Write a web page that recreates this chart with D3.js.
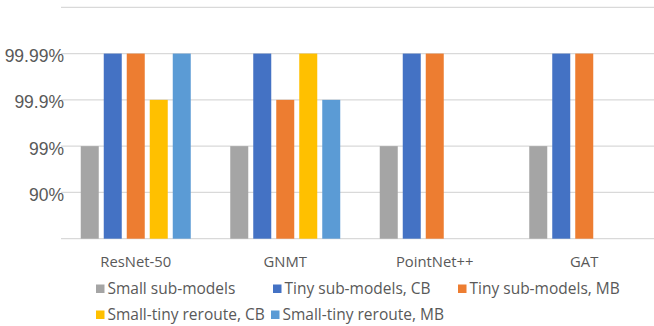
<!DOCTYPE html>
<html>
<head>
<meta charset="utf-8">
<script src="https://cdn.jsdelivr.net/npm/d3@7"></script>
<style>
  body { margin: 0; background: #fff; }
  svg { display: block; }
</style>
</head>
<body>
<div id="chart"></div>
<script>
// availability reached per model (percent), null = no bar
const categories = ['ResNet-50', 'GNMT', 'PointNet++', 'GAT'];
const seriesNames = ['Small sub-models', 'Tiny sub-models, CB', 'Tiny sub-models, MB',
                     'Small-tiny reroute, CB', 'Small-tiny reroute, MB'];
const smallSub   = [99, 99, 99, 99];
const tinyCB     = [99.99, 99.99, 99.99, 99.99];
const tinyMB     = [99.99, 99.9, 99.99, 99.99];
const rerouteCB  = [99.9, 99.99, null, null];
const rerouteMB  = [99.99, 99.9, null, null];
const tickValues = [90, 99, 99.9, 99.99];
const tickLabels = ['90%', '99%', '99.9%', '99.99%'];
const colors = ['#A5A5A5', '#4472C4', '#ED7D31', '#FFC000', '#5B9BD5'];

const seriesValues = [smallSub, tinyCB, tinyMB, rerouteCB, rerouteMB];

const W = 654, H = 326;
const margin = {top: 7.3, left: 61, bottom: 87.3};
const textColor = '#595959';

const svg = d3.select('#chart').append('svg')
    .attr('width', W)
    .attr('height', H);

// number of nines: 90% -> 1, 99% -> 2 ...
const nines = v => -Math.log10(1 - v / 100);

const y = d3.scaleLinear().domain([0, 5]).range([H - margin.bottom, margin.top]);
const x0 = d3.scaleBand().domain(categories).range([margin.left, 659]);
const groupW = 110;
const x1 = d3.scaleBand().domain(seriesNames)
    .range([x0.bandwidth() / 2 - groupW / 2, x0.bandwidth() / 2 + groupW / 2])
    .paddingInner(5 / 23).paddingOuter(0);

// gridlines
svg.append('g').selectAll('line')
  .data(d3.range(0, 6))
  .join('line')
    .attr('x1', margin.left).attr('x2', W)
    .attr('y1', d => y(d)).attr('y2', d => y(d))
    .attr('stroke', '#D9D9D9')
    .attr('stroke-width', 1.3);

// y labels
svg.append('g').selectAll('text')
  .data(tickValues)
  .join('text')
    .attr('x', 64)
    .attr('y', d => y(nines(d)))
    .attr('dy', '0.48em')
    .attr('text-anchor', 'end')
    .attr('fill', textColor)
    .style('font-family', '"Liberation Sans", Arial, sans-serif')
    .style('font-size', '17.5px')
    .text((d, i) => tickLabels[i]);

// bars
const rows = [];
categories.forEach((c, i) => {
  seriesNames.forEach((s, j) => {
    const v = seriesValues[j][i];
    if (v != null) rows.push({cat: c, series: s, idx: j, value: v});
  });
});

svg.append('g').selectAll('rect')
  .data(rows)
  .join('rect')
    .attr('x', d => x0(d.cat) + x1(d.series))
    .attr('y', d => y(nines(d.value)))
    .attr('width', x1.bandwidth())
    .attr('height', d => y(0) - y(nines(d.value)))
    .attr('fill', d => colors[d.idx]);

// category labels
svg.append('g').selectAll('text')
  .data(categories)
  .join('text')
    .attr('x', d => x0(d) + x0.bandwidth() / 2)
    .attr('y', 261.5)
    .attr('dy', '0.35em')
    .attr('text-anchor', 'middle')
    .attr('fill', textColor)
    .style('font-family', '"Open Sans", sans-serif')
    .style('font-size', '14.8px')
    .text(d => d);

// legend
const legendPos = [[96, 289], [273, 289], [458, 289], [96, 315], [271, 315]];
const legend = svg.append('g').selectAll('g')
  .data(seriesNames)
  .join('g')
    .attr('transform', (d, i) => 'translate(' + legendPos[i][0] + ',' + legendPos[i][1] + ')');
legend.append('rect')
    .attr('x', 0).attr('y', -4.5)
    .attr('width', 8.5).attr('height', 8.5)
    .attr('fill', (d, i) => colors[i]);
legend.append('text')
    .attr('x', 11.5)
    .attr('dy', '0.35em')
    .attr('fill', textColor)
    .style('font-family', '"Open Sans", sans-serif')
    .style('font-size', '15.5px')
    .text(d => d);
</script>
</body>
</html>
